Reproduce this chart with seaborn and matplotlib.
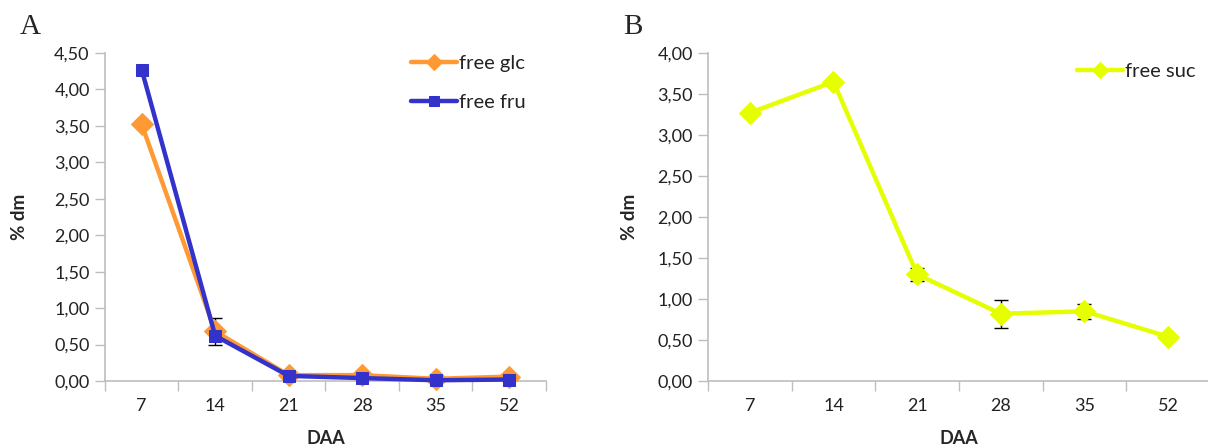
import numpy as np
import pandas as pd
import matplotlib
matplotlib.use("Agg")
import matplotlib.pyplot as plt
import seaborn as sns

# Sampling days after anthesis
daa = ["7", "14", "21", "28", "35", "52"]

# Free sugars, % of dry matter
glc = [3.52, 0.68, 0.08, 0.08, 0.03, 0.06]
glc_err = [0.0, 0.19, 0.0, 0.0, 0.0, 0.0]
fru = [4.27, 0.62, 0.07, 0.04, 0.01, 0.02]
fru_err = [0.0, 0.0, 0.0, 0.0, 0.0, 0.0]
suc = [3.27, 3.65, 1.30, 0.82, 0.85, 0.54]
suc_err = [0.0, 0.0, 0.075, 0.17, 0.09, 0.0]

sns.set_theme(style="white")
plt.rcParams["font.family"] = ["Lato", "DejaVu Sans"]

AXIS_GREY = "#BEBEBE"
ORANGE = "#FF9933"
BLUE = "#3333CC"
YELLOW = "#E5FF00"

fig = plt.figure(figsize=(12.08, 4.47), dpi=100)
ax_a = fig.add_axes([0.0869, 0.1477, 0.3650, 0.7337])
ax_b = fig.add_axes([0.5861, 0.1477, 0.4155, 0.7337])

pos = np.arange(len(daa))


def draw_series(ax, values, errs, color, marker, ms, label):
    df = pd.DataFrame({"pos": pos, "val": values})
    sns.lineplot(data=df, x="pos", y="val", ax=ax, color=color, lw=3.2,
                 marker=marker, markersize=ms, markeredgecolor=color,
                 label=label, zorder=3, clip_on=False)
    e = np.array(errs)
    mask = e > 0
    if mask.any():
        ax.errorbar(pos[mask], np.array(values)[mask], yerr=e[mask], fmt="none",
                    ecolor="black", elinewidth=1.0, capsize=5, capthick=1.0,
                    zorder=2)


def style_axes(ax, ymax, ylabel_x):
    ax.set_xlim(-0.5, len(daa) - 0.5)
    ax.set_ylim(0, ymax)
    ticks = np.arange(0, ymax + 0.001, 0.5)
    ax.set_yticks(ticks)
    ax.set_yticklabels([f"{v:.2f}".replace(".", ",") for v in ticks])
    # boundary tick marks between categories, labels at category centres
    ax.set_xticks(np.arange(-0.5, len(daa), 1.0))
    ax.set_xticklabels([])
    ax.set_xticks(pos, minor=True)
    ax.set_xticklabels(daa, minor=True)
    ax.tick_params(axis="x", which="major", direction="out", length=7,
                   width=1, color=AXIS_GREY, bottom=True)
    ax.tick_params(axis="x", which="minor", length=0, pad=12,
                   labelsize=13, labelcolor="#222222", bottom=True)
    ax.tick_params(axis="y", direction="out", length=7, width=1,
                   color=AXIS_GREY, left=True, labelsize=13,
                   labelcolor="#222222", pad=4)
    for side in ("top", "right"):
        ax.spines[side].set_visible(False)
    for side in ("left", "bottom"):
        ax.spines[side].set_color(AXIS_GREY)
        ax.spines[side].set_linewidth(1.2)
    ax.set_xlabel("DAA", fontsize=13, fontweight="bold", labelpad=12)
    ax.set_ylabel("% dm", fontsize=13.5, fontweight="bold")
    ax.yaxis.set_label_coords(ylabel_x, 0.5)
    ax.grid(False)


def finish_legend(leg, sizes):
    for t in leg.get_texts():
        t.set_color("#222222")
    for h, s in zip(leg.legend_handles, sizes):
        h.set_markersize(s)


# Panel A: glucose and fructose
draw_series(ax_a, glc, glc_err, ORANGE, "D", 11, "free glc")
draw_series(ax_a, fru, fru_err, BLUE, "s", 8.5, "free fru")
style_axes(ax_a, 4.5, -0.175)
leg_a = ax_a.legend(loc="upper left", bbox_to_anchor=(0.675, 1.02), frameon=False,
                    fontsize=14.5, handlelength=2.3, handletextpad=0.1,
                    labelspacing=1.1, borderaxespad=0)
finish_legend(leg_a, [8, 7.5])

# Panel B: sucrose
draw_series(ax_b, suc, suc_err, YELLOW, "D", 11, "free suc")
style_axes(ax_b, 4.0, -0.139)
leg_b = ax_b.legend(loc="upper left", bbox_to_anchor=(0.719, 0.995), frameon=False,
                    fontsize=14.5, handlelength=2.3, handletextpad=0.1,
                    borderaxespad=0)
finish_legend(leg_b, [8])

fig.text(0.016, 0.94, "A", fontsize=21, family="Liberation Serif", va="center")
fig.text(0.516, 0.94, "B", fontsize=21, family="Liberation Serif", va="center")

fig.savefig("out.png", dpi=100)
